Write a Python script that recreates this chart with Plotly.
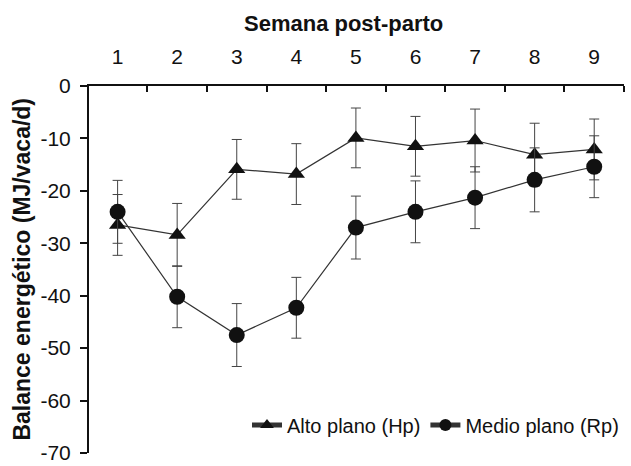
import plotly.graph_objects as go

weeks = [1, 2, 3, 4, 5, 6, 7, 8, 9]
hp_values = [-26.5, -28.4, -15.9, -16.8, -9.9, -11.5, -10.4, -13.1, -12.1]
hp_err = [5.8, 6.0, 5.7, 5.8, 5.7, 5.7, 6.0, 6.0, 5.8]
rp_values = [-24.0, -40.2, -47.5, -42.3, -27.0, -24.0, -21.3, -17.9, -15.4]
rp_err = [6.0, 5.9, 6.0, 5.8, 6.0, 5.9, 5.9, 6.1, 5.9]
y_ticks = [0, -10, -20, -30, -40, -50, -60, -70]

FONT = "Liberation Sans, Arial, sans-serif"
INK = "#111111"

fig = go.Figure()
fig.add_trace(go.Scatter(
    x=weeks, y=hp_values, mode="lines+markers", name="Alto plano (Hp)",
    line=dict(color="#333333", width=1.2),
    marker=dict(symbol="triangle-up", size=15, color=INK),
    error_y=dict(type="data", array=hp_err, visible=True, color="#444444", thickness=1, width=5),
))
fig.add_trace(go.Scatter(
    x=weeks, y=rp_values, mode="lines+markers", name="Medio plano (Rp)",
    line=dict(color="#333333", width=1.2),
    marker=dict(symbol="circle", size=16, color=INK),
    error_y=dict(type="data", array=rp_err, visible=True, color="#444444", thickness=1, width=5),
))

fig.update_layout(
    width=631, height=466,
    margin=dict(l=89, r=7, t=86, b=13, autoexpand=False),
    paper_bgcolor="white", plot_bgcolor="white",
    font=dict(family=FONT, color=INK, size=20),
    showlegend=True,
    legend=dict(orientation="h", x=1.0, xanchor="right", y=0.076, yanchor="middle",
                font=dict(size=20, color=INK), bgcolor="rgba(0,0,0,0)",
                itemsizing="constant", itemwidth=30),
    xaxis=dict(
        side="top", range=[0.52, 9.5], automargin=False,
        tickvals=weeks, ticktext=[str(w) for w in weeks],
        ticks="", ticklabelstandoff=12,
        showline=True, linecolor=INK, linewidth=2,
        showgrid=False, zeroline=False,
        minor=dict(tick0=0.5, dtick=1, ticks="inside", ticklen=6, tickwidth=2, tickcolor=INK, showgrid=False),
        tickfont=dict(size=21),
    ),
    yaxis=dict(
        range=[-70, 0], automargin=False,
        tickvals=y_ticks, ticktext=[str(v) for v in y_ticks],
        ticks="outside", ticklen=7, tickwidth=2, tickcolor=INK, ticklabelstandoff=5,
        ticklabeloverflow="allow",
        showline=True, linecolor=INK, linewidth=2,
        showgrid=False, zeroline=False,
        tickfont=dict(size=21),
    ),
    annotations=[
        dict(text="<b>Semana post-parto</b>", xref="paper", yref="paper",
             x=0.475, y=1.170, xanchor="center", yanchor="middle", showarrow=False,
             font=dict(size=22, color=INK)),
        dict(text="<b>Balance energético (MJ/vaca/d)</b>", xref="paper", yref="paper",
             x=-0.127, y=0.50, xanchor="center", yanchor="middle", showarrow=False,
             textangle=-90, font=dict(size=23, color=INK)),
    ],
)

fig.write_html("out.html", config={"displayModeBar": False},
               post_script="document.body.style.margin='0';document.body.style.overflow='hidden';")
